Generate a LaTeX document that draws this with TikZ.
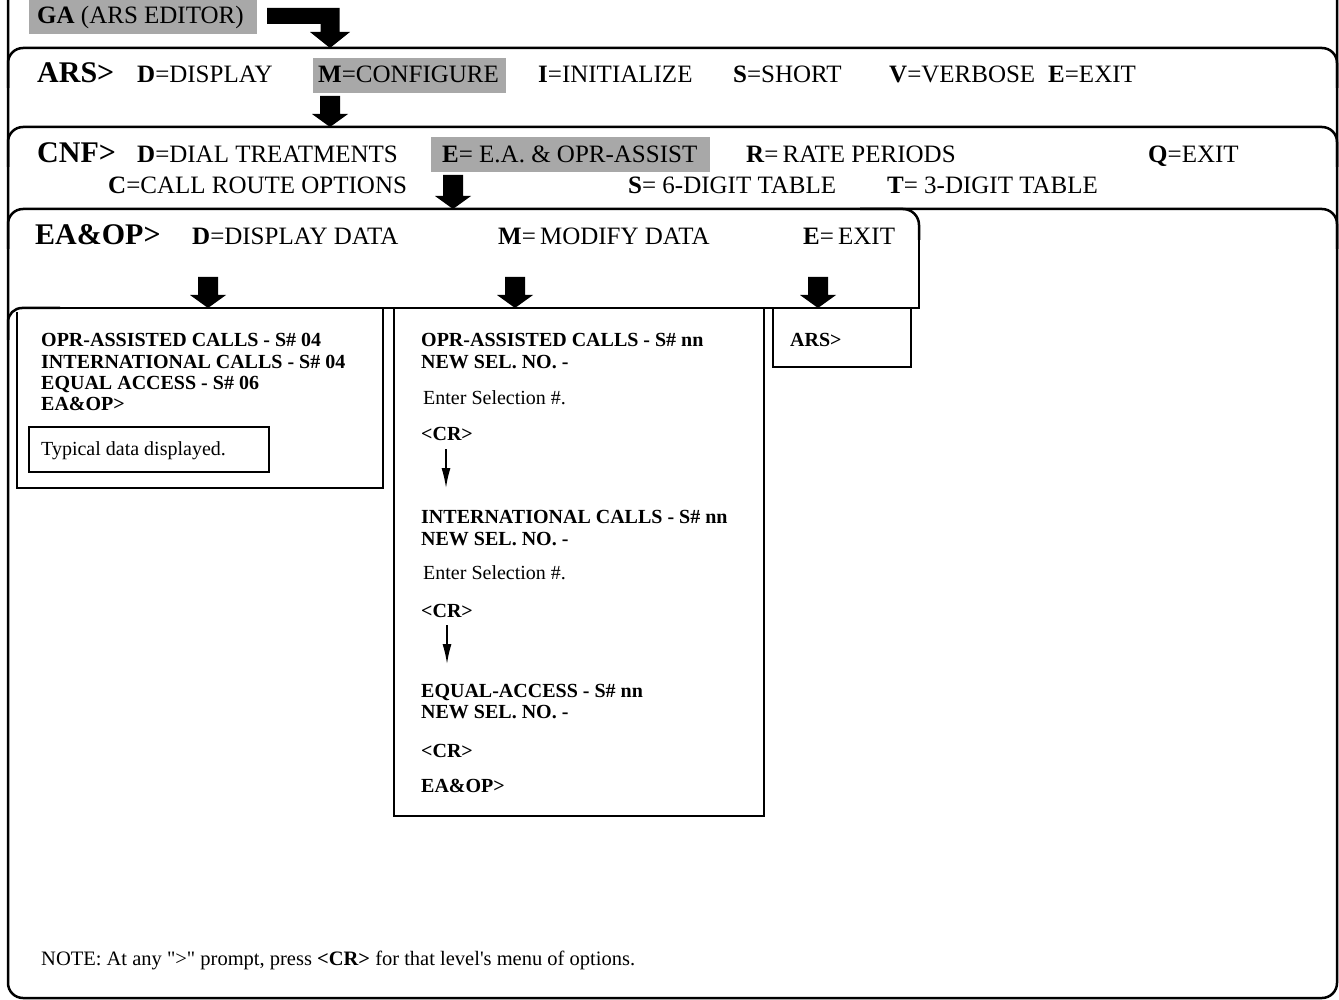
\documentclass[tikz,border=0pt]{standalone}
\usepackage{fontspec}
\setmainfont{Liberation Serif}
\usetikzlibrary{arrows.meta,calc}
\definecolor{hlgray}{RGB}{168,168,168}

\begin{document}
\begin{tikzpicture}[x=1pt,y=-1pt,
  frame/.style={line width=2.5pt},
  boxline/.style={line width=2.2pt},
  thinbox/.style={line width=1.4pt},
  hl/.style={fill=hlgray},
  lbl/.style={anchor=base west, inner sep=0pt},
  menu/.style={lbl, font=\fontsize{25}{30}\selectfont},
  prompt/.style={lbl, font=\fontsize{30}{36}\selectfont\bfseries},
  entry/.style={lbl, font=\fontsize{20}{22}\selectfont\bfseries},
  plain/.style={lbl, font=\fontsize{20}{22}\selectfont},
  cr/.style={line width=1.5pt, -{Latex[length=20pt,width=9pt]}},
  % straight block arrow: bar from the start point down to a tip at the target
  blockarr/.style={fill=black, draw=none, to path={
    let \p1=(\tikztostart), \p2=(\tikztotarget) in
    (\x1-10pt,\y1) -- (\x1+10pt,\y1) -- (\x1+10pt,\y2+13pt) -- (\x1+18pt,\y2+13pt)
    -- (\x2,\y2) -- (\x1-18pt,\y2+13pt) -- (\x1-10pt,\y2+13pt) -- cycle}},
  % elbow block arrow: horizontal bar, then down to a tip at the target
  elbowarr/.style={fill=black, draw=none, to path={
    let \p1=(\tikztostart), \p2=(\tikztotarget) in
    (\x1,\y1+8pt) -- (\x2+9.5pt,\y1+8pt) -- (\x2+9.5pt,\y2+16pt) -- (\x2+20pt,\y2+16pt)
    -- (\x2,\y2) -- (\x2-20pt,\y2+16pt) -- (\x2-9.5pt,\y2+16pt) -- (\x2-9.5pt,\y1-8pt)
    -- (\x1,\y1-8pt) -- cycle}}
]
\useasboundingbox (0,0) rectangle (1339,1000);

% highlighted menu choices
\fill[hl] (29,-4) rectangle (257,34);
\fill[hl] (313,58) rectangle (506,93);
\fill[hl] (431,137) rectangle (710,172);

% outer frame and stacked menu panels
\draw[frame, rounded corners=15] (8,-5) -- (8,998) -- (1337,998) -- (1337,-5);
\foreach \yy in {48,127,209}
  \draw[frame, rounded corners=15] (8,\yy+40) -- (8,\yy) -- (1337,\yy) -- (1337,\yy+40);

% EA&OP menu panel outline
\draw[frame, rounded corners=14] (8,340) -- (8,308) -- (60,308);
\draw[frame] (60,308) -- (919,308) -- (919,240);
\draw[frame, rounded corners=16] (919,240) -- (919,209) -- (860,209);

% result boxes
\draw[boxline] (17,312) -- (17,488) -- (383,488) -- (383,308);
\draw[boxline] (394,308) -- (394,816) -- (764,816) -- (764,308);
\draw[boxline] (773,308) -- (773,367) -- (911,367) -- (911,308);
\draw[thinbox] (29,427) rectangle (269,472);

% GA line
\node[menu] (ga) at (37,24) {\textbf{GA} (ARS EDITOR)};

% ARS menu
\node[prompt] (ars) at (37,83) {ARS>};
\node[menu] (arsD) at (137,83) {\textbf{D}=DISPLAY};
\node[menu] (arsM) at (318,83) {\textbf{M}=CONFIGURE};
\node[menu] (arsI) at (538,83) {\textbf{I}=INITIALIZE};
\node[menu] (arsS) at (733,83) {\textbf{S}=SHORT};
\node[menu] (arsV) at (889,83) {\textbf{V}=VERBOSE};
\node[menu] (arsE) at (1048,83) {\textbf{E}=EXIT};

% CNF menu
\node[prompt] (cnf) at (37,163) {CNF>};
\node[menu] (cnfD) at (137,163) {\textbf{D}=DIAL TREATMENTS};
\node[menu] (cnfE) at (442,163) {\textbf{E}= E.A. \& OPR-ASSIST};
\node[menu] (cnfR) at (746,163) {\textbf{R}=\,RATE PERIODS};
\node[menu] (cnfQ) at (1148,163) {\textbf{Q}=EXIT};
\node[menu] (cnfC) at (108,194) {\textbf{C}=CALL ROUTE OPTIONS};
\node[menu] (cnfS) at (628,194) {\textbf{S}= 6-DIGIT TABLE};
\node[menu] (cnfT) at (887,194) {\textbf{T}= 3-DIGIT TABLE};

% EA&OP menu
\node[prompt] (ea) at (35,245) {EA\&OP>};
\node[menu] (eaD) at (192,245) {\textbf{D}=DISPLAY DATA};
\node[menu] (eaM) at (498,245) {\textbf{M}=\,MODIFY DATA};
\node[menu] (eaE) at (803,245) {\textbf{E}=\,EXIT};

% display data result
\node[entry] (d1) at (41,346) {OPR-ASSISTED CALLS - S\# 04};
\node[entry] (d2) at (41,368) {INTERNATIONAL CALLS - S\# 04};
\node[entry] (d3) at (41,389) {EQUAL ACCESS - S\# 06};
\node[entry] (d4) at (41,410) {EA\&OP>};
\node[plain] (typ) at (41,455) {Typical data displayed.};

% modify data sequence
\node[entry] (m1) at (421,346) {OPR-ASSISTED CALLS - S\# nn};
\node[entry] (m1n) at (421,368) {NEW SEL. NO. -};
\node[plain] (m1e) at (423,404) {Enter Selection \#.};
\node[entry] (m1c) at (421,440) {<CR>};
\node[entry] (m2) at (421,523) {INTERNATIONAL CALLS - S\# nn};
\node[entry] (m2n) at (421,545) {NEW SEL. NO. -};
\node[plain] (m2e) at (423,579) {Enter Selection \#.};
\node[entry] (m2c) at (421,617) {<CR>};
\node[entry] (m3) at (421,697) {EQUAL-ACCESS - S\# nn};
\node[entry] (m3n) at (421,718) {NEW SEL. NO. -};
\node[entry] (m3c) at (421,757) {<CR>};
\node[entry] (m4) at (421,792) {EA\&OP>};

% exit result
\node[entry] (x1) at (790,346) {ARS>};

% footnote
\node[plain, font=\fontsize{20.5}{24}\selectfont] (note) at (41,965)
  {NOTE: At any \textquotedbl{}>\textquotedbl{} prompt, press \textbf{<CR>} for that level\textquotesingle s menu of options.};

% arrows between menu levels
\coordinate (gaTail) at (267,16);
\coordinate (arsTop) at (330,48);
\fill[elbowarr] (gaTail) to (arsTop);

\coordinate (mTail) at (330,96);   \coordinate (cnfTop) at (330,127);
\coordinate (eTail) at (453,175);  \coordinate (eaTop) at (453,209);
\coordinate (dTail) at (208,277);  \coordinate (dBox) at (208,308);
\coordinate (mdTail) at (515,277); \coordinate (mBox) at (515,308);
\coordinate (exTail) at (818,277); \coordinate (xBox) at (818,308);
\fill[blockarr] (mTail) to (cnfTop);
\fill[blockarr] (eTail) to (eaTop);
\fill[blockarr] (dTail) to (dBox);
\fill[blockarr] (mdTail) to (mBox);
\fill[blockarr] (exTail) to (xBox);

% carriage-return steps
\coordinate (cr1a) at (446,449); \coordinate (cr1b) at (446,488);
\coordinate (cr2a) at (447,625); \coordinate (cr2b) at (447,664);
\draw[cr] (cr1a) -- (cr1b);
\draw[cr] (cr2a) -- (cr2b);
\end{tikzpicture}
\end{document}
